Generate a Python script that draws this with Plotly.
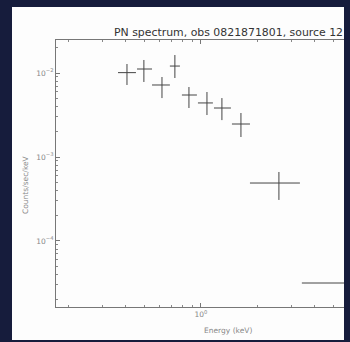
import plotly.graph_objects as go
import numpy as np

# Spectrum data
energy = [0.406, 0.499, 0.622, 0.728, 0.864, 1.076, 1.291, 1.628, 2.586, 7.0]
energy_lo = [0.364, 0.459, 0.551, 0.685, 0.793, 0.964, 1.172, 1.459, 1.817, 3.42]
energy_hi = [0.453, 0.551, 0.685, 0.774, 0.952, 1.157, 1.441, 1.817, 3.34, 12.0]
rate = [0.0101, 0.01116, 0.00720, 0.0121, 0.00547, 0.00440, 0.00383, 0.00247, 0.000490, 3.16e-5]
rate_lo = [0.00720, 0.00782, 0.00503, 0.00872, 0.00383, 0.00316, 0.00275, 0.00173, 0.000308, 1.2e-5]
rate_hi = [0.0128, 0.01429, 0.00896, 0.01637, 0.00681, 0.00594, 0.00503, 0.00334, 0.000663, 6.0e-5]

y_tickvals = [1e-2, 1e-3, 1e-4]
y_ticktext = ["10<sup>−2</sup>", "10<sup>−3</sup>", "10<sup>−4</sup>"]
x_tickvals = [1.0]
x_ticktext = ["10<sup>0</sup>"]

x_minor = [0.2, 0.3, 0.4, 0.5, 0.6, 0.7, 0.8, 0.9, 2, 3, 4, 5]
y_minor = [m * 10.0 ** e for e in (-5, -4, -3, -2) for m in range(2, 10)]

e = np.array(energy); r = np.array(rate)
fig = go.Figure(go.Scatter(
    x=energy, y=rate, mode="markers",
    marker=dict(size=1, color="rgba(0,0,0,0)"),
    error_x=dict(type="data", symmetric=False,
                 array=list(np.array(energy_hi) - e),
                 arrayminus=list(e - np.array(energy_lo)),
                 color="#444", thickness=1, width=0),
    error_y=dict(type="data", symmetric=False,
                 array=list(np.array(rate_hi) - r),
                 arrayminus=list(r - np.array(rate_lo)),
                 color="#444", thickness=1, width=0),
    showlegend=False, hoverinfo="skip"))

# plot area: x 56..344, y 40..307 (pixels)
L, R, T, B = 56, 344, 40, 307
W, H = R - L, B - T
def px(xp): return (xp - L) / W
def py(yp): return (B - yp) / H

fig.add_shape(type="rect", xref="paper", yref="paper",
              x0=px(12), x1=px(344), y0=py(340), y1=py(7),
              fillcolor="#fdfdfd", line=dict(width=0), layer="below")

axis_common = dict(showgrid=False, zeroline=False, showline=True,
                   linecolor="#777", linewidth=1, ticks="inside",
                   ticklen=4, tickcolor="#777",
                   tickfont=dict(family="DejaVu Sans", size=7.5, color="#888"))

fig.update_xaxes(type="log", range=[-0.767, 0.757], tickmode="array",
                 tickvals=x_tickvals, ticktext=x_ticktext, mirror="ticks",
                 minor=dict(tickvals=x_minor, ticks="inside", ticklen=2,
                            tickcolor="#888"),
                 **axis_common)
fig.update_yaxes(type="log", range=[-4.786, -1.607], tickmode="array",
                 tickvals=y_tickvals, ticktext=y_ticktext, mirror=False,
                 minor=dict(tickvals=y_minor, ticks="inside", ticklen=2,
                            tickcolor="#888"),
                 **axis_common)

fig.add_annotation(text="PN spectrum, obs 0821871801, source 12",
                   xref="paper", yref="paper", x=px(112), y=py(33),
                   xanchor="left", yanchor="middle", showarrow=False,
                   font=dict(family="DejaVu Sans", size=10.9, color="#333"))
fig.add_annotation(text="Counts/sec/keV", xref="paper", yref="paper",
                   x=px(25), y=py(185), textangle=-90, showarrow=False,
                   xanchor="center", yanchor="middle",
                   font=dict(family="DejaVu Sans", size=7.5, color="#888"))
fig.add_annotation(text="Energy (keV)", xref="paper", yref="paper",
                   x=px(228), y=py(330), showarrow=False,
                   xanchor="center", yanchor="middle",
                   font=dict(family="DejaVu Sans", size=7.5, color="#888"))

fig.update_layout(width=350, height=342,
                  margin=dict(l=L, r=350 - R, t=T, b=342 - B),
                  paper_bgcolor="#161c3c", plot_bgcolor="#fdfdfd")

fig.write_html("out.html")
